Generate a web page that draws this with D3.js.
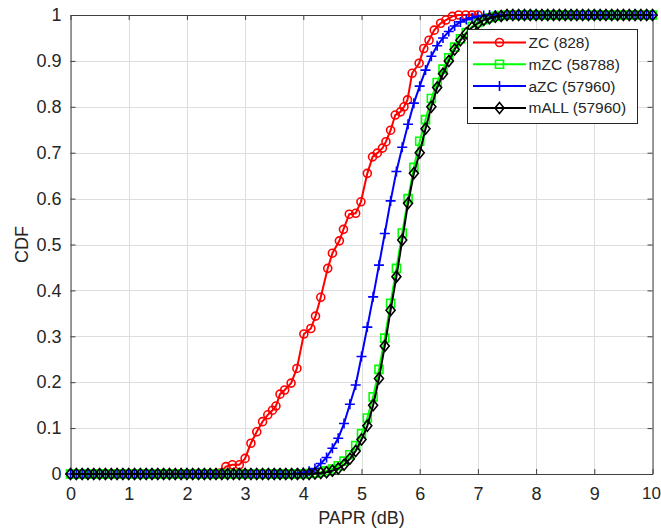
<!DOCTYPE html>
<html lang="en">
<head>
    <meta charset="UTF-8">
    <title>PAPR CDF</title>
    <script src="https://d3js.org/d3.v7.min.js"></script>
    <style>
        body { margin: 0; background: #fff; }
        text { font-family: "Liberation Sans", Arial, sans-serif; fill: #262626; }
    </style>
</head>
<body>
    <script>
        // PAPR grid (dB) the three uniform curves are sampled on
        const papr = d3.range(101).map(i => i / 10);

        // ZC (828) - empirical CDF, irregular sample points
        const zcX = [0, 2.57, 2.67, 2.78, 2.9, 3.0, 3.1, 3.2, 3.3, 3.39, 3.47, 3.53, 3.6, 3.68, 3.79, 3.89,
                     4.01, 4.13, 4.21, 4.3, 4.42, 4.5, 4.62, 4.69, 4.79, 4.9, 4.99, 5.1, 5.19, 5.27,
                     5.36, 5.42, 5.5, 5.58, 5.67, 5.73, 5.79, 5.87, 5.99, 6.07, 6.16, 6.25, 6.36,
                     6.45, 6.56, 6.67, 6.79, 6.9, 7.0];
        const zcY = [0, 0.002, 0.016, 0.02, 0.02, 0.034, 0.067, 0.092, 0.114, 0.129, 0.139, 0.148, 0.174, 0.183, 0.198, 0.23,
                     0.305, 0.317, 0.344, 0.385, 0.448, 0.481, 0.508, 0.533, 0.566, 0.568, 0.593, 0.655, 0.691, 0.699,
                     0.71, 0.724, 0.749, 0.782, 0.789, 0.8, 0.815, 0.873, 0.895, 0.927, 0.945, 0.967, 0.982,
                     0.989, 0.997, 1, 1, 1, 1];

        // mZC (58788)
        const mzc = [0, 0, 0, 0, 0, 0, 0, 0, 0, 0,
                     0, 0, 0, 0, 0, 0, 0, 0, 0, 0,
                     0, 0, 0, 0, 0, 0, 0, 0, 0, 0,
                     0, 0, 0, 0, 0, 0, 0, 0, 0, 0,
                     0, 0.001, 0.002, 0.004, 0.007, 0.011, 0.018, 0.028, 0.042, 0.062,
                     0.088, 0.122, 0.168, 0.228, 0.296, 0.372, 0.448, 0.525, 0.6, 0.668,
                     0.725, 0.772, 0.818, 0.853, 0.882, 0.907, 0.93, 0.948, 0.962, 0.975,
                     0.984, 0.99, 0.994, 0.997, 0.999, 1, 1, 1, 1, 1,
                     1, 1, 1, 1, 1, 1, 1, 1, 1, 1,
                     1, 1, 1, 1, 1, 1, 1, 1, 1, 1,
                     1];

        // aZC (57960)
        const azc = [0, 0, 0, 0, 0, 0, 0, 0, 0, 0,
                     0, 0, 0, 0, 0, 0, 0, 0, 0, 0,
                     0, 0, 0, 0, 0, 0, 0, 0, 0, 0,
                     0, 0, 0, 0, 0, 0, 0, 0, 0, 0.001,
                     0.003, 0.006, 0.012, 0.023, 0.036, 0.056, 0.078, 0.11, 0.152, 0.194,
                     0.256, 0.32, 0.386, 0.455, 0.524, 0.595, 0.659, 0.712, 0.762, 0.808,
                     0.845, 0.88, 0.91, 0.933, 0.95, 0.964, 0.976, 0.985, 0.99, 0.994,
                     0.997, 0.999, 1, 1, 1, 1, 1, 1, 1, 1,
                     1, 1, 1, 1, 1, 1, 1, 1, 1, 1,
                     1, 1, 1, 1, 1, 1, 1, 1, 1, 1,
                     1];

        // mALL (57960)
        const mall = [0, 0, 0, 0, 0, 0, 0, 0, 0, 0,
                      0, 0, 0, 0, 0, 0, 0, 0, 0, 0,
                      0, 0, 0, 0, 0, 0, 0, 0, 0, 0,
                      0, 0, 0, 0, 0, 0, 0, 0, 0, 0,
                      0, 0, 0.001, 0.002, 0.004, 0.007, 0.012, 0.02, 0.033, 0.05,
                      0.075, 0.105, 0.15, 0.208, 0.279, 0.357, 0.43, 0.51, 0.59, 0.655,
                      0.7, 0.752, 0.8, 0.842, 0.872, 0.9, 0.925, 0.945, 0.96, 0.973,
                      0.982, 0.989, 0.993, 0.996, 0.998, 1, 1, 1, 1, 1,
                      1, 1, 1, 1, 1, 1, 1, 1, 1, 1,
                      1, 1, 1, 1, 1, 1, 1, 1, 1, 1,
                      1];

        const xTicks = [0, 1, 2, 3, 4, 5, 6, 7, 8, 9, 10];
        const yTicks = [0, 0.1, 0.2, 0.3, 0.4, 0.5, 0.6, 0.7, 0.8, 0.9, 1];
        const legendLabels = ["ZC (828)", "mZC (58788)", "aZC (57960)", "mALL (57960)"];

        const w = 661;
        const h = 529;
        const padL = 70.5, padR = 652.5, padT = 15, padB = 474;
        const fontSize = 18;

        const svg = d3.select("body")
                      .append("svg")
                      .attr("width", w)
                      .attr("height", h);

        const xScale = d3.scaleLinear().domain([0, 10]).range([padL, padR]);
        const yScale = d3.scaleLinear().domain([0, 1]).range([padB, padT]);

        // grid
        const grid = svg.append("g").attr("stroke", "#dedede").attr("stroke-width", 1);
        grid.selectAll(".gx").data(xTicks).enter().append("line")
            .attr("x1", d => Math.round(xScale(d)) + 0.5).attr("x2", d => Math.round(xScale(d)) + 0.5)
            .attr("y1", padT).attr("y2", padB);
        grid.selectAll(".gy").data(yTicks).enter().append("line")
            .attr("y1", d => Math.round(yScale(d)) + 0.5).attr("y2", d => Math.round(yScale(d)) + 0.5)
            .attr("x1", padL).attr("x2", padR);

        // axes: ticks point inward on all four sides, labels only bottom/left
        const styleAxis = g => {
            g.select(".domain").attr("stroke", "#404040");
            g.selectAll(".tick line").attr("stroke", "#404040");
            g.selectAll("text").attr("font-size", fontSize).attr("fill", "#262626")
             .attr("font-family", "'Liberation Sans', Arial, sans-serif");
        };

        const xAxisG = svg.append("g")
           .attr("transform", `translate(0, ${padB})`)
           .call(d3.axisBottom(xScale).tickValues(xTicks).tickSizeInner(-5).tickSizeOuter(0).tickPadding(13))
           .call(styleAxis);
        // last label sits at the figure edge, pull it in a little
        xAxisG.selectAll(".tick text").filter(d => d === 10).attr("font-size", 17).attr("dx", -1.5);

        svg.append("g")
           .attr("transform", `translate(${padL}, 0)`)
           .call(d3.axisLeft(yScale).tickValues(yTicks).tickFormat(d3.format("~g"))
                   .tickSizeInner(-5).tickSizeOuter(0).tickPadding(9))
           .call(styleAxis);

        svg.append("g")
           .attr("transform", `translate(0, ${padT})`)
           .call(d3.axisTop(xScale).tickValues(xTicks).tickSizeInner(-5).tickSizeOuter(0).tickFormat(""))
           .call(styleAxis);

        svg.append("g")
           .attr("transform", `translate(${padR}, 0)`)
           .call(d3.axisRight(yScale).tickValues(yTicks).tickSizeInner(-5).tickSizeOuter(0).tickFormat(""))
           .call(styleAxis);

        // axis labels
        svg.append("text")
           .attr("x", (padL + padR) / 2).attr("y", 524)
           .attr("text-anchor", "middle").attr("font-size", fontSize)
           .text("PAPR (dB)");

        svg.append("text")
           .attr("transform", `translate(28, ${(padT + padB) / 2}) rotate(-90)`)
           .attr("text-anchor", "middle").attr("font-size", fontSize)
           .text("CDF");

        // marker shapes
        const markers = {
            circle: "M4,0A4,4 0 1 1 -4,0A4,4 0 1 1 4,0Z",
            square: "M-4,-4H4V4H-4Z",
            plus: "M-5,0H5M0,-5V5",
            diamond: "M0,-5.5L4.5,0L0,5.5L-4.5,0Z"
        };

        const series = [
            { xs: zcX, ys: zcY, color: "#ff0000", marker: markers.circle },
            { xs: papr, ys: mzc, color: "#00ff00", marker: markers.square },
            { xs: papr, ys: azc, color: "#0000ff", marker: markers.plus },
            { xs: papr, ys: mall, color: "#000000", marker: markers.diamond }
        ];

        const line = d3.line().x(d => xScale(d[0])).y(d => yScale(d[1]));

        series.forEach(s => {
            const pts = s.xs.map((x, i) => [x, s.ys[i]]);
            const g = svg.append("g");
            g.append("path")
             .attr("d", line(pts))
             .attr("fill", "none")
             .attr("stroke", s.color)
             .attr("stroke-width", 2);
            g.selectAll("path.mk")
             .data(pts)
             .enter()
             .append("path")
             .attr("class", "mk")
             .attr("d", s.marker)
             .attr("transform", d => `translate(${xScale(d[0])}, ${yScale(d[1])})`)
             .attr("fill", "none")
             .attr("stroke", s.color)
             .attr("stroke-width", 1.6);
        });

        // legend
        const lg = svg.append("g");
        lg.append("rect")
          .attr("x", 467.5).attr("y", 29.5)
          .attr("width", 170).attr("height", 94)
          .attr("fill", "#fff").attr("stroke", "#262626").attr("stroke-width", 1);

        legendLabels.forEach((label, i) => {
            const y = 42.5 + i * 21.8;
            const s = series[i];
            lg.append("line")
              .attr("x1", 473).attr("x2", 526)
              .attr("y1", y).attr("y2", y)
              .attr("stroke", s.color).attr("stroke-width", 2);
            lg.append("path")
              .attr("d", s.marker)
              .attr("transform", `translate(499.5, ${y})`)
              .attr("fill", "none").attr("stroke", s.color).attr("stroke-width", 1.6);
            lg.append("text")
              .attr("x", 528.5).attr("y", y).attr("dy", "0.35em")
              .attr("font-size", 15.5)
              .text(label);
        });
    </script>
</body>
</html>
